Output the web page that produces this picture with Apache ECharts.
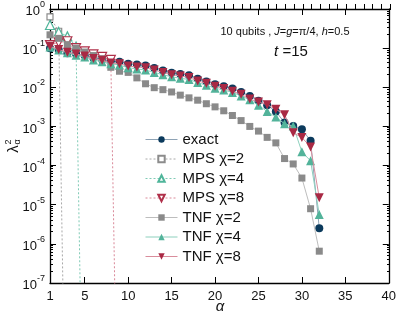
<!DOCTYPE html>
<html>
<head>
<meta charset="utf-8">
<script src="https://cdn.jsdelivr.net/npm/echarts@6/dist/echarts.min.js"></script>
<style>html,body{margin:0;padding:0;background:#fff}#c{width:399px;height:317px}</style>
</head>
<body>
<div id="c"></div>
<script>
// ---- data ----
var alpha = [1,2,3,4,5,6,7,8,9,10,11,12,13,14,15,16,17,18,19,20,21,22,23,24,25,26,27,28,29,30,31,32];
var exact = [0.1,0.091,0.074,0.071,0.065,0.056,0.051,0.046,0.045,0.040,0.038,0.036,0.031,0.027,0.0234,0.0219,0.0204,0.0166,0.0141,0.012,0.0107,0.0093,0.0076,0.006,0.0045,0.0035,0.0024,0.00126,0.00102,0.00085,0.00043,2.5e-6];
var mps2 = [0.63,0.27,1e-14];
var mps4 = [0.39,0.26,0.2,0.11,1e-14];
var mps8 = [0.12,0.14,0.15,0.1,0.083,0.069,0.06,0.05,1e-14];
var tnf2 = [0.219,0.178,0.123,0.1,0.0794,0.0646,0.0537,0.0324,0.0257,0.024,0.0174,0.0123,0.00977,0.0087,0.00759,0.0063,0.00537,0.00468,0.0038,0.00316,0.00251,0.0019,0.00141,0.001,0.00076,0.000525,0.00038,0.000151,0.00011,4.8e-5,7.9e-6,6.5e-7];
var tnf4 = [0.107,0.089,0.076,0.066,0.059,0.05,0.045,0.04,0.037,0.0316,0.0295,0.0275,0.024,0.0209,0.0186,0.017,0.0158,0.0132,0.0112,0.0095,0.0085,0.0074,0.006,0.0048,0.0035,0.0024,0.00174,0.00117,0.00102,0.000224,0.000132,5.6e-6];
var tnf8 = [0.112,0.093,0.079,0.071,0.063,0.054,0.049,0.042,0.040,0.035,0.033,0.0316,0.0275,0.024,0.0209,0.0195,0.0178,0.0145,0.0126,0.0107,0.0093,0.0079,0.0066,0.005,0.0042,0.0036,0.00275,0.002,0.00069,0.00052,0.0003,1.5e-5];
var xLabels = [1,5,10,15,20,25,30,35,40];
var xMajorTicks = [5,10,15,20,25,30,35];

function pairs(vals){ return vals.map(function(v,i){ return [alpha[i], v]; }); }

// minor log ticks expressed as exponents on an overlay value axis
var yMinor = [];
for (var d = -7; d < 0; d++) { for (var k = 2; k <= 9; k++) { yMinor.push(d + Math.log10(k)); } }

var FONT = 'Liberation Sans, Arial, sans-serif';
var chart = echarts.init(document.getElementById('c'), null, {renderer:'canvas'});

var gridRect = {left:50, right:9, top:7, bottom:34};
var axisLineStyle = {color:'#000', width:1.3};

function mkSeries(name, vals, o){
  return {
    name:name, type:'line', data:pairs(vals), xAxisIndex:0, yAxisIndex:0,
    symbol:o.symbol, symbolSize:o.size, symbolRotate:o.rot||0, showAllSymbol:true,
    lineStyle:{color:o.line, width:1, type:o.dash?[2,2]:'solid'},
    itemStyle:{color:o.fill, borderColor:o.border||o.fill, borderWidth:o.bw||0},
    emphasis:{disabled:true}, animation:false, clip:true, z:o.z||2
  };
}

var option = {
  animation:false,
  textStyle:{fontFamily:FONT},
  grid:[ Object.assign({}, gridRect), Object.assign({}, gridRect) ],
  legend:{
    orient:'vertical', left:145, top:132, padding:0, itemWidth:32, itemHeight:8, itemGap:4.5,
    lineStyle:{width:1},
    textStyle:{fontSize:15, color:'#111', fontFamily:FONT},
    data:['exact','MPS χ=2','MPS χ=4','MPS χ=8','TNF χ=2','TNF χ=4','TNF χ=8']
  },
  xAxis:[
    {type:'value', gridIndex:0, position:'bottom', min:1, max:40,
      axisLine:{lineStyle:axisLineStyle}, splitLine:{show:false},
      axisTick:{inside:true, length:6, customValues:xMajorTicks, lineStyle:{color:'#000'}},
      axisLabel:{customValues:xLabels, fontSize:13, color:'#111', margin:7, fontFamily:FONT}},
    {type:'value', gridIndex:0, position:'top', min:1, max:40,
      axisLine:{lineStyle:axisLineStyle}, splitLine:{show:false},
      axisTick:{inside:true, length:6, customValues:xMajorTicks, lineStyle:{color:'#000'}},
      axisLabel:{show:false}},
    {type:'value', gridIndex:1, position:'bottom', min:1, max:40, interval:1,
      axisLine:{show:false}, splitLine:{show:false},
      axisTick:{inside:true, length:3, lineStyle:{color:'#000'}}, axisLabel:{show:false}},
    {type:'value', gridIndex:1, position:'top', min:1, max:40, interval:1,
      axisLine:{show:false}, splitLine:{show:false},
      axisTick:{inside:true, length:3, lineStyle:{color:'#000'}}, axisLabel:{show:false}}
  ],
  yAxis:[
    {type:'log', gridIndex:0, position:'left', min:1e-7, max:1, logBase:10,
      axisLine:{show:true, lineStyle:axisLineStyle}, splitLine:{show:false},
      axisTick:{show:true, inside:true, length:6, lineStyle:{color:'#000'}},
      axisLabel:{margin:5, color:'#111', fontFamily:FONT,
        formatter:function(v){ var e = Math.round(Math.log10(v)); return '{b|10}{s|' + e + '}'; },
        rich:{ b:{fontSize:13, color:'#111', fontFamily:FONT, lineHeight:18, verticalAlign:'bottom'},
               s:{fontSize:9, color:'#111', fontFamily:FONT, lineHeight:18, verticalAlign:'top'} }}},
    {type:'log', gridIndex:0, position:'right', min:1e-7, max:1, logBase:10,
      axisLine:{show:true, lineStyle:axisLineStyle}, splitLine:{show:false},
      axisTick:{show:true, inside:true, length:6, lineStyle:{color:'#000'}}, axisLabel:{show:false}},
    {type:'value', gridIndex:1, position:'left', min:-7, max:0,
      axisLine:{show:false}, splitLine:{show:false},
      axisTick:{show:true, inside:true, length:3, customValues:yMinor, lineStyle:{color:'#000'}}, axisLabel:{show:false}},
    {type:'value', gridIndex:1, position:'right', min:-7, max:0,
      axisLine:{show:false}, splitLine:{show:false},
      axisTick:{show:true, inside:true, length:3, customValues:yMinor, lineStyle:{color:'#000'}}, axisLabel:{show:false}}
  ],
  series:[
    mkSeries('exact', exact, {symbol:'circle', size:8, fill:'#0b3a5c', line:'#8ea3b5', z:2}),
    mkSeries('MPS χ=2', mps2, {symbol:'rect', size:6, fill:'#ffffff', border:'#8c8c8c', bw:1.2, line:'#a8a8a8', dash:true, z:3}),
    mkSeries('MPS χ=4', mps4, {symbol:'triangle', size:9, fill:'#ffffff', border:'#4fb59a', bw:1.2, line:'#7fcab5', dash:true, z:3}),
    mkSeries('MPS χ=8', mps8, {symbol:'triangle', size:9, rot:180, fill:'#ffffff', border:'#b0304a', bw:1.2, line:'#d98898', dash:true, z:3}),
    mkSeries('TNF χ=2', tnf2, {symbol:'rect', size:7, fill:'#8a8a8a', line:'#bdbdbd', z:4}),
    mkSeries('TNF χ=4', tnf4, {symbol:'triangle', size:9, fill:'#52b39a', line:'#8dd0bd', z:5}),
    mkSeries('TNF χ=8', tnf8, {symbol:'triangle', size:9, rot:180, fill:'#a92944', line:'#d98d9c', z:6})
  ],
  graphic:[
    {type:'text', x:285, y:32, style:{text:'10 qubits , {i|J}={i|g}=π/4, {i|h}=0.5', fontSize:11, fill:'#111', fontFamily:FONT, align:'center', verticalAlign:'middle',
      rich:{i:{fontStyle:'italic', fontSize:11, fill:'#111', fontFamily:FONT}}}},
    {type:'text', x:291, y:52, style:{text:'{i|t} =15', fontSize:15, fill:'#111', fontFamily:FONT, align:'center', verticalAlign:'middle',
      rich:{i:{fontStyle:'italic', fontSize:15, fill:'#111', fontFamily:FONT}}}},
    {type:'text', x:220, y:307, style:{text:'α', fontSize:15, fontStyle:'italic', fill:'#111', fontFamily:FONT, align:'center', verticalAlign:'middle'}},
    {type:'group', x:14, y:149, rotation:Math.PI/2, children:[
      {type:'text', x:0, y:0, style:{text:'λ', fontSize:15, fill:'#111', fontFamily:FONT, align:'center', verticalAlign:'middle'}},
      {type:'text', x:7, y:-5, style:{text:'2', fontSize:9, fill:'#111', fontFamily:FONT, align:'center', verticalAlign:'middle'}},
      {type:'text', x:7, y:4, style:{text:'α', fontSize:9, fill:'#111', fontFamily:FONT, align:'center', verticalAlign:'middle'}}
    ]}
  ]
};
chart.setOption(option);
</script>
</body>
</html>
